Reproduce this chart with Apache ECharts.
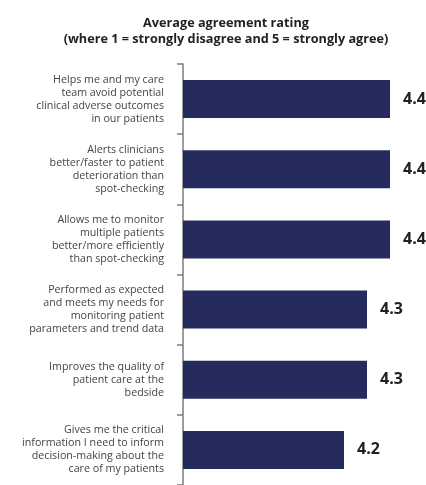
<!DOCTYPE html>
<html>
<head>
<meta charset="utf-8">
<script src="https://cdn.jsdelivr.net/npm/echarts@6/dist/echarts.min.js"></script>
<style>
  html, body { margin: 0; padding: 0; background: #fff; }
  #chart { width: 426px; height: 485px; }
</style>
</head>
<body>
<div id="chart"></div>
<script>
// statements (top to bottom) and their average ratings
const statements = [
  'Helps me and my care\nteam avoid potential\nclinical adverse outcomes\nin our patients',
  'Alerts clinicians\nbetter/faster to patient\ndeterioration than\nspot-checking',
  'Allows me to monitor\nmultiple patients\nbetter/more efficiently\nthan spot-checking',
  'Performed as expected\nand meets my needs for\nmonitoring patient\nparameters and trend data',
  'Improves the quality of\npatient care at the\nbedside',
  'Gives me the critical\ninformation I need to inform\ndecision-making about the\ncare of my patients'
];
const ratings = [4.4, 4.4, 4.4, 4.3, 4.3, 4.2];

const chart = echarts.init(document.getElementById('chart'));

const option = {
  animation: false,
  textStyle: { fontFamily: 'Open Sans' },
  title: {
    text: 'Average agreement rating\n(where 1 = strongly disagree and 5 = strongly agree)',
    left: 221,
    textAlign: 'center',
    top: 10,
    textStyle: {
      fontFamily: 'Open Sans',
      fontSize: 12.7,
      fontWeight: 'bold',
      color: '#222',
      lineHeight: 16
    }
  },
  grid: {
    left: 183,
    width: 230,
    top: 64,
    height: 423
  },
  xAxis: {
    type: 'value',
    min: 3.5,
    max: 4.5,
    show: false
  },
  yAxis: {
    type: 'category',
    inverse: true,
    data: statements,
    axisLine: { show: true, lineStyle: { color: '#7d7d7d', width: 1.5 } },
    axisTick: { show: true, interval: 0, length: 6, lineStyle: { color: '#7d7d7d', width: 1.5 } },
    axisLabel: {
      interval: 0,
      margin: 19,
      fontFamily: 'Open Sans',
      fontSize: 10.7,
      lineHeight: 13,
      color: '#444'
    }
  },
  series: [{
    type: 'bar',
    data: ratings,
    barWidth: 38,
    itemStyle: { color: '#252b5d' },
    label: {
      show: true,
      position: 'right',
      distance: 13,
      formatter: p => p.value.toFixed(1),
      fontFamily: 'Open Sans',
      fontSize: 16,
      fontWeight: 'bold',
      color: '#222'
    }
  }]
};

chart.setOption(option);
</script>
</body>
</html>
